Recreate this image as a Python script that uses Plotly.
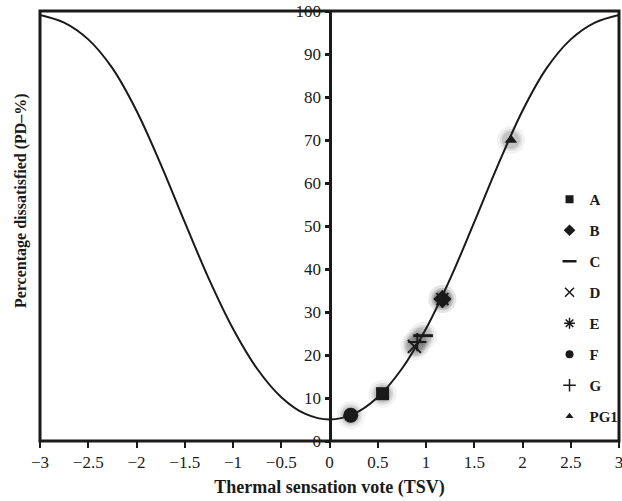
import plotly.graph_objects as go

# PD curve (TSV, PD %)
curve_tsv = [-3, -2.75, -2.5, -2.25, -2, -1.75, -1.5, -1.25, -1, -0.75, -0.5, -0.25, 0,
             0.25, 0.5, 0.75, 1, 1.25, 1.5, 1.75, 2, 2.25, 2.5, 2.75, 3]
curve_pd = [99.1, 97.3, 93.4, 86.7, 76.8, 64.4, 50.9, 37.7, 26.1, 16.8, 10.2, 6.3, 5.0,
            6.3, 10.2, 16.8, 26.1, 37.7, 50.9, 64.4, 76.8, 86.7, 93.4, 97.3, 99.1]

# survey points
series_names = ["A", "B", "C", "D", "E", "F", "G", "PG1"]
series_tsv = [0.55, 1.17, 0.97, 0.88, 1.17, 0.22, 0.91, 1.88]
series_pd = [11.0, 33.0, 24.5, 22.0, 33.0, 6.0, 23.0, 70.0]

x_ticks = [-3, -2.5, -2, -1.5, -1, -0.5, 0, 0.5, 1, 1.5, 2, 2.5, 3]
x_tick_text = ["\u22123", "\u22122.5", "\u22122", "\u22121.5", "\u22121", "\u22120.5", "0",
               "0.5", "1", "1.5", "2", "2.5", "3"]
y_ticks = [0, 10, 20, 30, 40, 50, 60, 70, 80, 90, 100]

FONT = "Liberation Serif"
INK = "#1a1a1a"

styles = {
    "A": dict(symbol="square", size=13, lw=0),
    "B": dict(symbol="diamond", size=14, lw=0),
    "C": dict(symbol="line-ew", size=14, lw=3),
    "D": dict(symbol="x-thin", size=13, lw=2),
    "E": dict(symbol="asterisk", size=14, lw=2),
    "F": dict(symbol="circle", size=15, lw=0),
    "G": dict(symbol="cross-thin", size=13, lw=2),
    "PG1": dict(symbol="triangle-up", size=11, lw=0),
}
legend_styles = {
    "A": dict(size=8, lw=0), "B": dict(size=9, lw=0), "C": dict(size=10, lw=2.5),
    "D": dict(size=9, lw=1.5), "E": dict(size=9, lw=1.5), "F": dict(size=8, lw=0),
    "G": dict(size=9, lw=1.5), "PG1": dict(size=7, lw=0),
}

fig = go.Figure()

fig.add_trace(go.Scatter(x=curve_tsv, y=curve_pd, mode="lines",
                         line=dict(color=INK, width=2, shape="spline", smoothing=1.0),
                         showlegend=False, hoverinfo="skip"))

# soft blurred halos around the points
for size, alpha in [(28, 0.06), (22, 0.10), (18, 0.14)]:
    fig.add_trace(go.Scatter(x=series_tsv, y=series_pd, mode="markers",
                             marker=dict(symbol="circle", size=size, color=f"rgba(40,40,40,{alpha})", line=dict(width=0)),
                             showlegend=False, hoverinfo="skip"))

for i, name in enumerate(series_names):
    st = styles[name]
    fig.add_trace(go.Scatter(x=[series_tsv[i]], y=[series_pd[i]], mode="markers", name=name,
                             legendgroup=name, showlegend=False,
                             marker=dict(symbol=st["symbol"], size=st["size"], color=INK,
                                         line=dict(width=st["lw"], color=INK))))
    ls = legend_styles[name]
    fig.add_trace(go.Scatter(x=[None], y=[None], mode="markers", name="<b>" + name + "</b>",
                             legendgroup=name, showlegend=True,
                             marker=dict(symbol=st["symbol"], size=ls["size"], color=INK,
                                         line=dict(width=ls["lw"], color=INK))))

fig.add_shape(type="rect", xref="x domain", yref="y domain", x0=0, x1=1, y0=0, y1=1,
              line=dict(color=INK, width=3), layer="above")

fig.update_layout(
    width=622, height=501,
    margin=dict(l=40, r=3, t=11, b=60, autoexpand=False),
    paper_bgcolor="white", plot_bgcolor="white",
    font=dict(family=FONT, color=INK, size=17),
    legend=dict(x=0.88, y=0.6, xanchor="left", yanchor="top", font=dict(family=FONT, size=15, color=INK),
                tracegroupgap=8.5, itemwidth=30, bgcolor="rgba(0,0,0,0)"),
    xaxis=dict(range=[-3, 3], tickvals=x_ticks, ticktext=x_tick_text, ticks="outside", ticklen=6, tickwidth=2,
               tickcolor=INK, showgrid=False, zeroline=False, showline=False, automargin=False,
               ticklabeloverflow="allow",
               title=dict(text="<b>Thermal sensation vote (TSV)</b>", font=dict(family=FONT, size=18), standoff=8),
               tickfont=dict(family=FONT, size=17)),
    yaxis=dict(range=[0, 100], tickvals=y_ticks, ticks="outside", ticklen=4, tickwidth=3, tickcolor=INK,
               showgrid=False, zeroline=False, showline=True, linewidth=3, linecolor=INK, automargin=False,
               ticklabeloverflow="allow",
               anchor="free", position=0.5, tickfont=dict(family=FONT, size=17)),
    annotations=[dict(text="<b>Percentage dissatisfied (PD\u2013%)</b>", xref="paper", yref="paper", x=-0.033, y=0.56,
                      textangle=-90, showarrow=False, xanchor="center", yanchor="middle",
                      font=dict(family=FONT, size=16, color=INK))],
)

fig.write_html("out.html", config={"displayModeBar": False},
               post_script="document.body.style.margin='0';")
